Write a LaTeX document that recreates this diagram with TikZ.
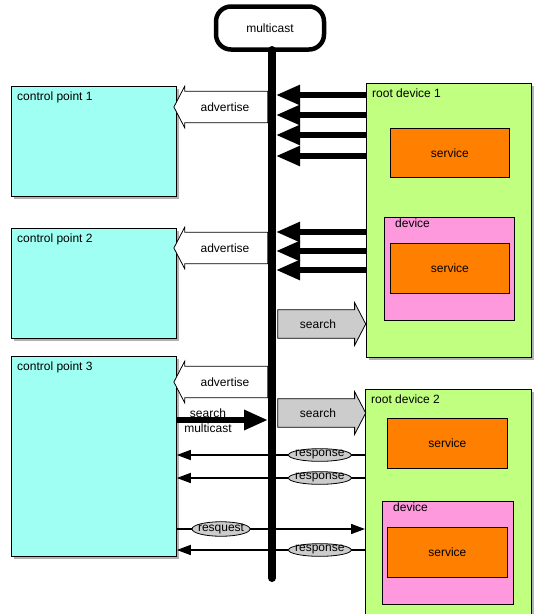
\documentclass[tikz,border=0pt]{standalone}
\usepackage{fontspec}
\setmainfont{Liberation Sans}
\usetikzlibrary{arrows.meta,shapes.arrows,shapes.geometric,shadows,positioning}
\definecolor{cpcyan}{RGB}{159,255,242}
\definecolor{rdgreen}{RGB}{192,255,128}
\definecolor{devpink}{RGB}{255,153,221}
\definecolor{svorange}{RGB}{255,128,0}

\begin{document}
\begin{tikzpicture}[x=1pt,y=-1pt,font=\fontsize{12}{15}\selectfont,
   box/.style={draw,line width=0.8pt,anchor=north west,inner sep=0pt},
   sh/.style={drop shadow={shadow xshift=3pt,shadow yshift=-3pt,fill=gray!60,opacity=1}},
   cp/.style={box,sh,fill=cpcyan,minimum width=165pt},
   rd/.style={box,sh,fill=rdgreen},
   dev/.style={box,fill=devpink},
   sv/.style={box,fill=svorange,minimum width=120pt,minimum height=50pt},
   lbl/.style={anchor=north west,inner sep=1pt},
   fat/.style={line width=5.5pt,-{Triangle[length=24pt,width=19pt]},shorten >=4pt},
   thn/.style={line width=1.6pt,-{Triangle[length=14pt,width=10pt]}},
   adv/.style={single arrow,draw,line width=0.8pt,fill=white,shape border rotate=180,
      minimum height=94pt,single arrow head extend=5pt,single arrow tip angle=125,
      inner ysep=11pt,inner xsep=2pt},
   srch/.style={adv,fill=gray!40,shape border rotate=0,minimum height=88pt,
      inner ysep=9.5pt,single arrow head extend=7pt},
   tag/.style={ellipse,draw,line width=0.8pt,fill=gray!40,inner xsep=-2.5pt,inner ysep=0pt}]
   \useasboundingbox (0,0) rectangle (544,614);
   % multicast bus
   \node[draw,line width=4.5pt,rounded corners=15pt,minimum width=108pt,minimum height=43pt]
      (mc) at (270,28) {multicast};
   \coordinate (bustop) at (272,50);
   \coordinate (busend) at (272,578);
   \draw[line width=8pt,line cap=round] (bustop) -- (busend);
   % control points
   \node[cp,minimum height=110pt] (cp1) at (11,86) {};
   \node[cp,minimum height=110pt] (cp2) at (11,228) {};
   \node[cp,minimum height=200pt] (cp3) at (11,356) {};
   \node[lbl] (cp1t) at ([xshift=5pt,yshift=-5pt]cp1.north west) {control point 1};
   \node[lbl] (cp2t) at ([xshift=5pt,yshift=-5pt]cp2.north west) {control point 2};
   \node[lbl] (cp3t) at ([xshift=5pt,yshift=-5pt]cp3.north west) {control point 3};
   % root devices
   \node[rd,minimum width=165pt,minimum height=274pt] (rd1) at (366,83) {};
   \node[rd,minimum width=166pt,minimum height=250pt] (rd2) at (365,389) {};
   \node[lbl] (rd1t) at ([xshift=5pt,yshift=-5pt]rd1.north west) {root device 1};
   \node[lbl] (rd2t) at ([xshift=5pt,yshift=-5pt]rd2.north west) {root device 2};
   \node[sv,minimum width=119pt,minimum height=49pt] (sv1) at (390,128) {};
   \node[dev,minimum width=130pt,minimum height=103pt] (dev1) at (384,217) {};
   \node[sv,minimum width=119pt] (sv2) at (390,243) {};
   \node[sv] (sv3) at (387,418) {};
   \node[dev,minimum width=131pt,minimum height=103pt] (dev2) at (382,501) {};
   \node[sv] (sv4) at (387,527) {};
   \foreach \s in {sv1,sv2,sv3,sv4} \node (\s t) at (\s.center) {service};
   \node[lbl] (dev1t) at ([xshift=10pt,yshift=-1pt]dev1.north west) {device};
   \node[lbl] (dev2t) at ([xshift=10pt,yshift=-1pt]dev2.north west) {device};
   % advertisements
   \foreach \y in {95,115,135,156} \draw[fat] (rd1.west |- 0,\y) -- (bustop |- 0,\y);
   \foreach \y in {232,251,270} \draw[fat] (rd1.west |- 0,\y) -- (bustop |- 0,\y);
   \node[adv] (adv1) at (225,107) {advertise};
   \node[adv] (adv2) at (225,248) {advertise};
   \node[adv] (adv3) at (225,382) {advertise};
   % search
   \node[srch] (s1) at (318,324) {search};
   \node[srch] (s2) at (318,413) {search};
   \draw[fat,line width=6pt,shorten >=4pt] (cp3.east |- 0,420) -- (bustop |- 0,420);
   \node[align=center,inner sep=0pt] (smc) at (208,421) {search\\multicast};
   % responses
   \draw[thn] (rd2.west |- 0,455) -- node[tag,pos=0.24] (r1) {response} (cp3.east |- 0,455);
   \draw[thn] (rd2.west |- 0,478) -- node[tag,pos=0.24] (r2) {response} (cp3.east |- 0,478);
   \draw[thn] (cp3.east |- 0,529) -- node[tag,pos=0.235] (rq) {resquest} (rd2.west |- 0,529);
   \draw[thn] (rd2.west |- 0,550) -- node[tag,pos=0.24] (r3) {response} (cp3.east |- 0,550);
\end{tikzpicture}
\end{document}
